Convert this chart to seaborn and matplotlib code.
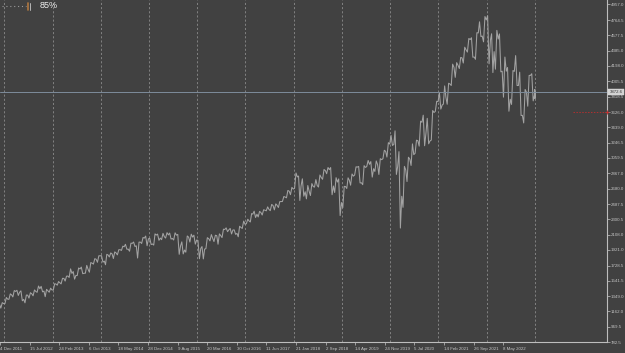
import numpy as np
import pandas as pd
import matplotlib
matplotlib.use("Agg")
import matplotlib.pyplot as plt
from matplotlib.lines import Line2D
from matplotlib.transforms import blended_transform_factory
import seaborn as sns

# ---------------- data (monthly high / low / close, Nov 2011 .. Dec 2022) ----------------
start_month = "2011-11"
high = [1292, 1269,
        1333, 1378, 1419, 1422, 1415, 1363, 1392, 1426, 1475, 1471, 1434, 1448,
        1504, 1530, 1570, 1597, 1687, 1654, 1698, 1709, 1730, 1765, 1813, 1849,
        1850, 1867, 1884, 1897, 1924, 1968, 1991, 2005, 2019, 2018, 2075, 2093,
        2064, 2120, 2117, 2126, 2135, 2130, 2133, 2113, 2021, 2094, 2116, 2104,
        2038, 1963, 2073, 2111, 2103, 2120, 2178, 2194, 2187, 2169, 2214, 2278,
        2301, 2371, 2401, 2398, 2418, 2454, 2484, 2491, 2519, 2582, 2657, 2695,
        2873, 2835, 2801, 2718, 2742, 2791, 2848, 2916, 2941, 2940, 2815, 2800,
        2708, 2813, 2861, 2949, 2954, 2964, 3028, 3014, 3022, 3050, 3154, 3248,
        3337, 3394, 3137, 2955, 3068, 3233, 3279, 3514, 3588, 3549, 3646, 3760,
        3870, 3950, 3983, 4219, 4238, 4302, 4429, 4537, 4546, 4608, 4743, 4808,
        4819, 4595, 4637, 4593, 4307, 4178, 4140, 4325, 4120, 3906, 4080, 4101]
low = [1158, 1202,
       1258, 1311, 1340, 1358, 1292, 1267, 1325, 1354, 1397, 1403, 1343, 1398,
       1426, 1485, 1501, 1536, 1581, 1560, 1604, 1627, 1633, 1646, 1746, 1768,
       1770, 1738, 1834, 1815, 1860, 1915, 1930, 1905, 1964, 1821, 2001, 1973,
       1988, 1981, 2040, 2048, 2068, 2056, 2044, 1867, 1872, 1893, 2019, 1993,
       1812, 1810, 1937, 2033, 2025, 1992, 2074, 2147, 2119, 2114, 2084, 2187,
       2245, 2267, 2322, 2329, 2353, 2405, 2407, 2417, 2446, 2520, 2566, 2605,
       2682, 2533, 2586, 2553, 2594, 2698, 2699, 2795, 2864, 2604, 2631, 2346,
       2444, 2681, 2722, 2848, 2750, 2728, 2952, 2822, 2892, 2855, 3050, 3070,
       3214, 2855, 2192, 2448, 2767, 2966, 3116, 3205, 3210, 3234, 3280, 3634,
       3663, 3725, 3723, 3955, 4056, 4165, 4233, 4368, 4305, 4279, 4560, 4495,
       4223, 4115, 4157, 4124, 3811, 3637, 3721, 3955, 3584, 3492, 3699, 3765]
close = [1247, 1258,
         1312, 1366, 1408, 1398, 1310, 1362, 1379, 1407, 1441, 1412, 1416, 1426,
         1498, 1515, 1569, 1598, 1631, 1606, 1686, 1633, 1682, 1757, 1806, 1848,
         1783, 1859, 1872, 1884, 1924, 1960, 1931, 2003, 1972, 2018, 2068, 2059,
         1995, 2105, 2068, 2086, 2107, 2063, 2104, 1972, 1920, 2079, 2080, 2044,
         1940, 1932, 2060, 2065, 2097, 2099, 2174, 2171, 2168, 2126, 2199, 2239,
         2279, 2364, 2363, 2384, 2412, 2423, 2470, 2472, 2519, 2575, 2648, 2674,
         2824, 2714, 2641, 2648, 2705, 2718, 2816, 2902, 2914, 2712, 2760, 2507,
         2704, 2784, 2834, 2946, 2752, 2942, 2980, 2926, 2977, 3038, 3141, 3231,
         3226, 2954, 2585, 2912, 3044, 3100, 3271, 3500, 3363, 3270, 3622, 3756,
         3714, 3811, 3973, 4181, 4204, 4297, 4395, 4523, 4308, 4605, 4567, 4766,
         4516, 4374, 4530, 4132, 4132, 3785, 4130, 3955, 3586, 3872, 4080, 3840]
first_open = 1253
# last (partial) weekly bar
last_bar_date = "2023-01-01"
last_bar = {"high": 3906, "low": 3794, "close": 3872.6}

bid_price = 3872.6
alert_price = 3626.0

price_levels = [4957.0, 4764.5, 4577.5, 4385.0, 4198.0, 4005.5, 3818.5, 3626.0,
                3439.0, 3246.5, 3059.5, 2867.0, 2680.0, 2487.5, 2300.5, 2108.0,
                1921.0, 1728.5, 1541.5, 1349.0, 1162.0, 969.5, 782.5]
date_labels = ["4 Dec 2011", "15 Jul 2012", "24 Feb 2013", "6 Oct 2013", "18 May 2014",
               "28 Dec 2014", "9 Aug 2015", "20 Mar 2016", "30 Oct 2016", "11 Jun 2017",
               "21 Jan 2018", "2 Sep 2018", "14 Apr 2019", "24 Nov 2019", "5 Jul 2020",
               "14 Feb 2021", "26 Sep 2021", "8 May 2022"]
grid_years = list(range(2012, 2024))
zoom_label = "85%"

# ---------------- build path ----------------
origin = pd.Timestamp("2011-12-04")
def day(ts):
    return (pd.Timestamp(ts) - origin).days

months = pd.period_range(start_month, periods=len(close), freq="M")
xs, ys = [], []
prev = first_open
for m, h, l, c in zip(months, high, low, close):
    d0 = day(m.start_time)
    L = m.days_in_month
    first, second = (l, h) if c >= prev else (h, l)
    xs += [d0 + 0.3 * L, d0 + 0.65 * L, d0 + L - 0.5]
    ys += [first, second, c]
    prev = c
d0 = day(last_bar_date)
xs += [d0 + 1.5, d0 + 3.0, d0 + 4.5]
ys += [last_bar["high"], last_bar["low"], last_bar["close"]]
df = pd.DataFrame({"day": xs, "price": ys})

# ---------------- style ----------------
BG = "#414141"
sns.set_style("dark", rc={"axes.facecolor": BG, "figure.facecolor": BG})
plt.rcParams["font.family"] = ["Liberation Sans", "DejaVu Sans"]

fig = plt.figure(figsize=(6.25, 3.53), dpi=100)
ax = fig.add_axes([0, 11 / 353, 607 / 625, 342 / 353])
ax.set_facecolor(BG)

days_per_px = 7.568
ax.set_xlim(0, 607 * days_per_px)
y_bottom = 782.5
per_px = (4957.0 - 782.5) / (342 - 4.5)
ax.set_ylim(y_bottom, y_bottom + 342 * per_px)

# year grid lines (first Sunday of each year)
for yr in grid_years:
    d = pd.Timestamp(f"{yr}-01-01")
    d = d + pd.Timedelta(days=(6 - d.dayofweek) % 7)
    ax.axvline(day(d), color="#8c8c8c", lw=0.6, ls=(0, (2.5, 2.5)), zorder=1)

sns.lineplot(data=df, x="day", y="price", ax=ax, color="#a3a3a3", linewidth=0.75,
             estimator=None, sort=False, zorder=3)

# bid line and alert line
ax.axhline(bid_price, color="#7d8c9b", lw=0.7, zorder=4)
ax.axhline(alert_price, xmin=573 / 607, xmax=1.0, color="#b03030", lw=0.7,
           ls=(0, (1.5, 1.5)), zorder=4)
trans = blended_transform_factory(ax.transAxes, ax.transData)
ax.plot([1.0], [alert_price], marker="+", color="#c03030", ms=3, mew=0.7,
        transform=trans, clip_on=False, zorder=6)

# axes styling
for s in ["top", "left"]:
    ax.spines[s].set_visible(False)
for s in ["right", "bottom"]:
    ax.spines[s].set_visible(True)
    ax.spines[s].set_color("#bdbdbd")
    ax.spines[s].set_linewidth(0.8)

ax.yaxis.tick_right()
ax.set_yticks(price_levels)
ax.set_yticklabels([f"{v:.1f}" for v in price_levels])
ax.tick_params(axis="y", right=True, left=False, length=1.8, width=0.5, pad=1.0,
               colors="#c4c4c4", labelsize=3.2)

tick_days = [day(pd.Timestamp(s)) for s in date_labels]
ax.set_xticks(tick_days)
ax.set_xticklabels(date_labels, ha="left")
ax.tick_params(axis="x", bottom=True, length=2.2, width=0.5, pad=1.2,
               colors="#c4c4c4", labelsize=3.2)
ax.set_xlabel("")
ax.set_ylabel("")
ax.grid(False)

# bid price box
ax.text(1.004, bid_price, f"{bid_price:.1f}", transform=trans, fontsize=3.1,
        color="#303030", va="center", ha="left", clip_on=False, zorder=7,
        bbox=dict(boxstyle="square,pad=0.25", fc="#d2d2d2", ec="#e0e0e0", lw=0.3))

# top-left widget
fig.add_artist(Line2D([2 / 625, 26 / 625], [1 - 6 / 353] * 2, color="#9a9a9a",
                      lw=0.8, ls=(0, (1, 2.5))))
fig.add_artist(Line2D([28 / 625] * 2, [1 - 3 / 353, 1 - 10 / 353], color="#b07840", lw=1.2))
fig.add_artist(Line2D([29.5 / 625] * 2, [1 - 3 / 353, 1 - 10 / 353], color="#c8c8c8", lw=0.6))
fig.text(40 / 625, 1 - 6 / 353, zoom_label, color="#f0f0f0", fontsize=6.5,
         va="center", ha="left")

fig.savefig("out.png", dpi=100, facecolor=BG)
